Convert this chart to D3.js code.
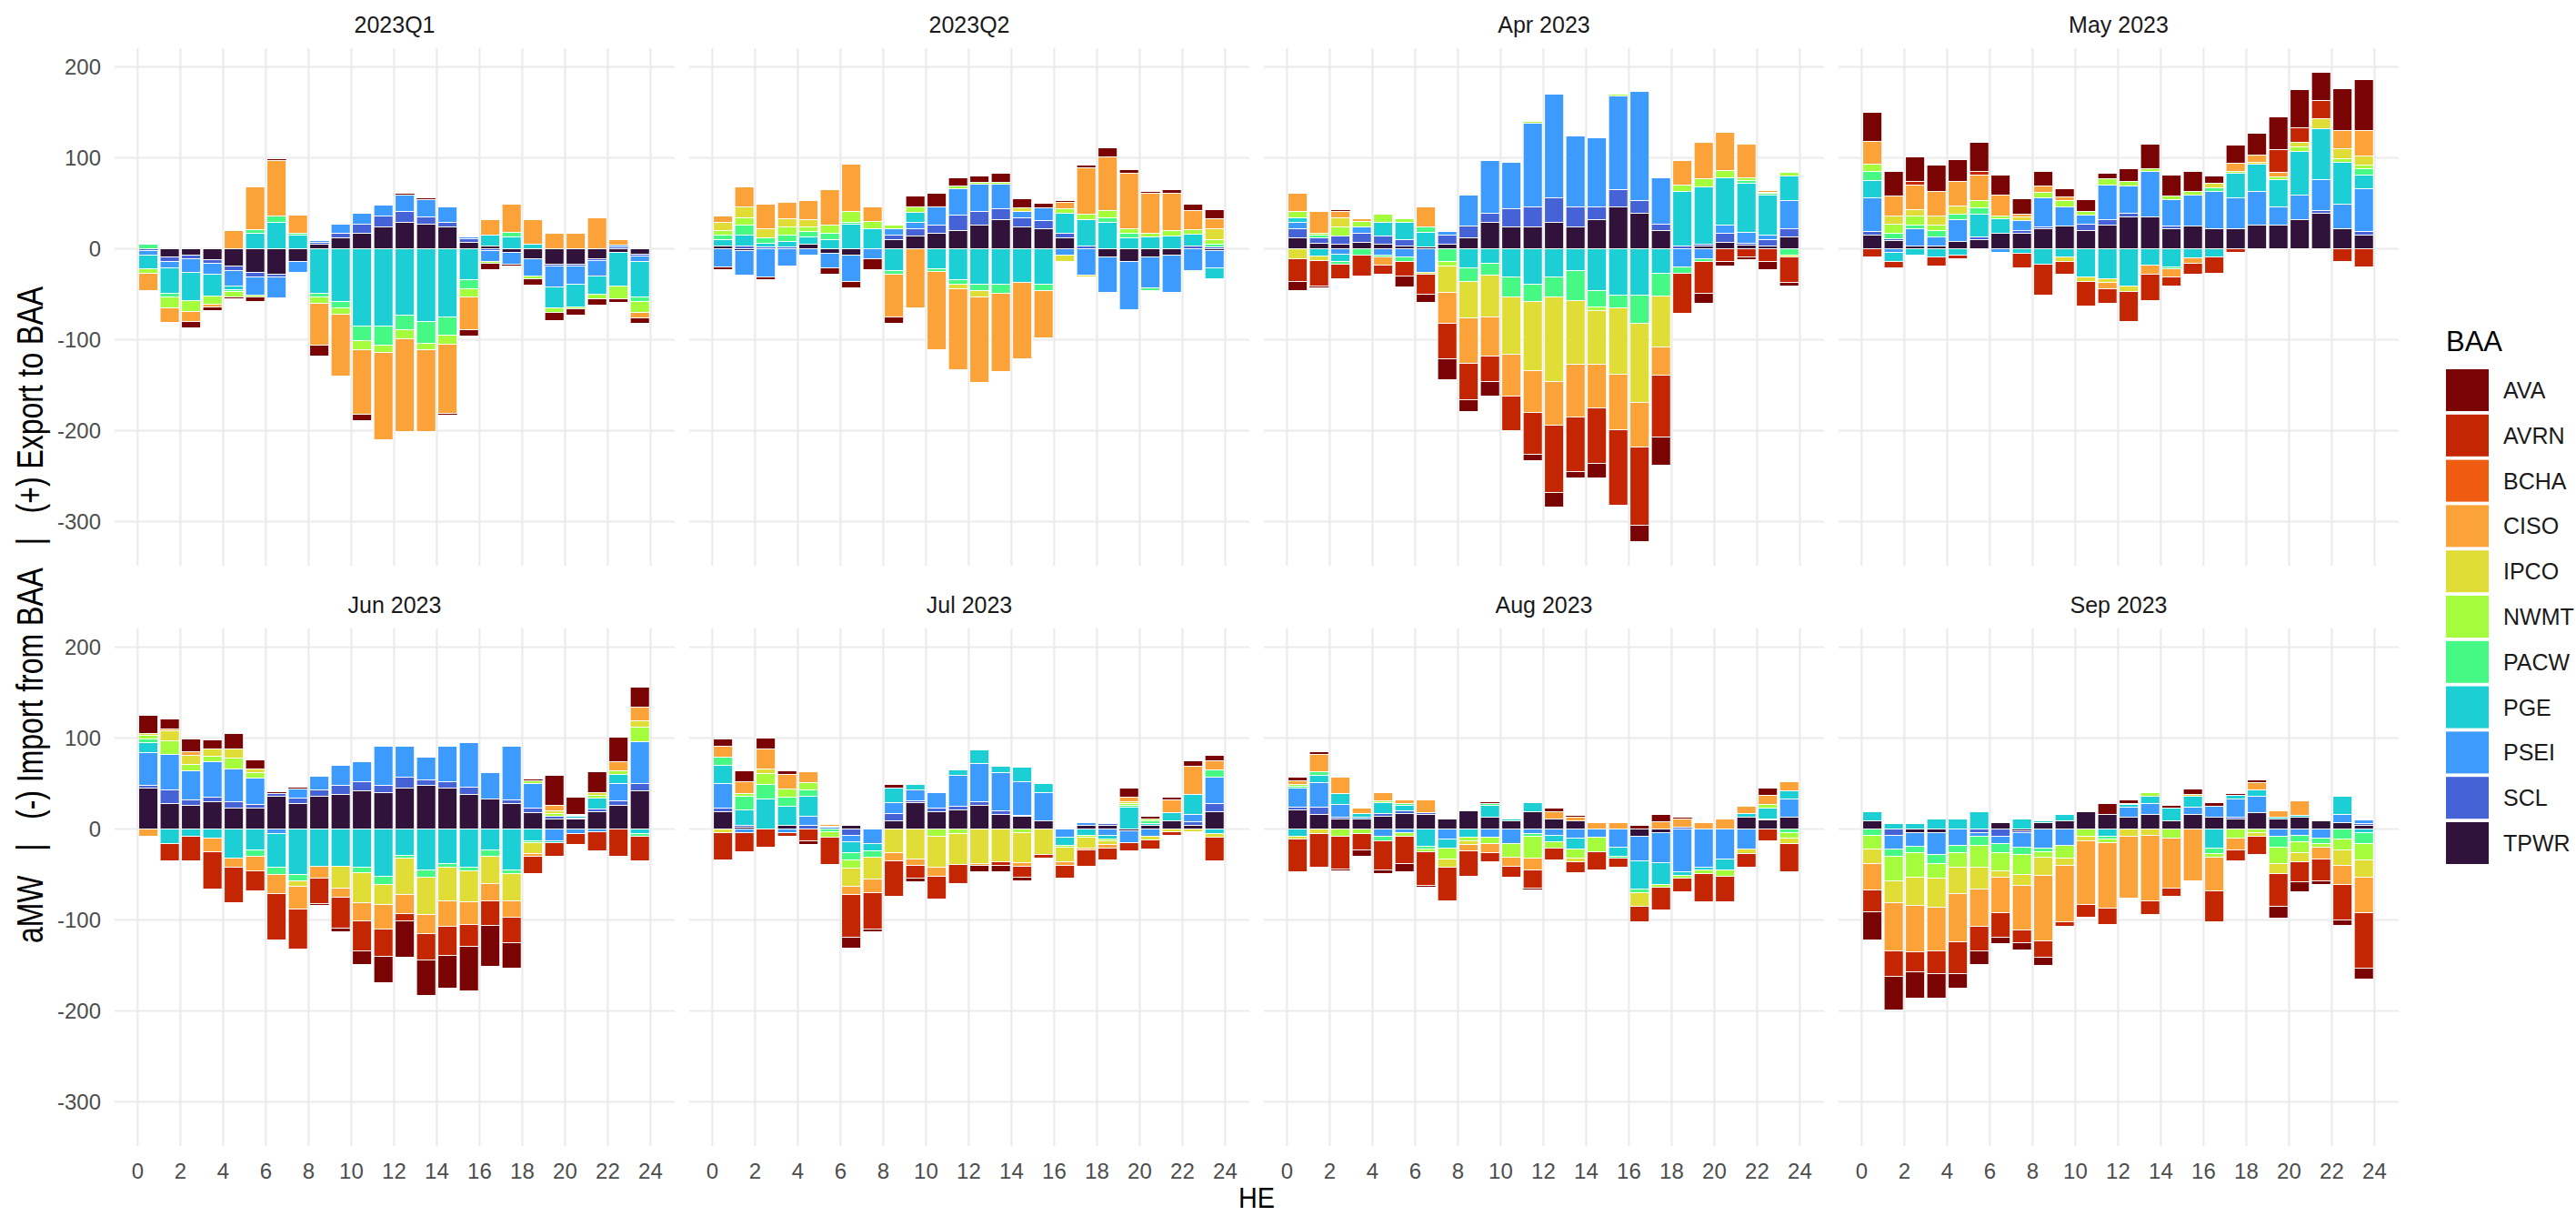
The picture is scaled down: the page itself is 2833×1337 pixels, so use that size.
<!DOCTYPE html>
<html>
<head>
<meta charset="utf-8">
<script src="https://cdn.jsdelivr.net/npm/d3@7"></script>
<style>
  html, body { margin: 0; padding: 0; background: #ffffff; }
  svg { display: block; font-family: "Liberation Sans", Arial, Helvetica, sans-serif; }
</style>
</head>
<body>
<svg id="chart" width="2833" height="1337"></svg>
<script>
// Balancing-authority areas (legend order) and their fill colours
const baa = ["AVA", "AVRN", "BCHA", "CISO", "IPCO", "NWMT", "PACW", "PGE", "PSEI", "SCL", "TPWR"];
const baaColors = ["#7a0403", "#c42503", "#f05b12", "#fba238", "#e1dd37", "#a4fc3c", "#46f884", "#1bcfd4", "#3e9bfe", "#4662d7", "#30123b"];

// Hour ending, 1..24
const hourEnding = d3.range(1, 25);

// Panel titles
const panels = ["2023Q1", "2023Q2", "Apr 2023", "May 2023", "Jun 2023", "Jul 2023", "Aug 2023", "Sep 2023"];

// Axis ticks
const yTicks = [-300, -200, -100, 0, 100, 200];
const xTicks = [0, 2, 4, 6, 8, 10, 12, 14, 16, 18, 20, 22, 24];

// Average MW per hour; each row is one hour ending, columns follow `baa`
const q1_2023 = [
  [0,0,0,-19,0,-5,5,-15,-5,-2,0],
  [0,0,0,-16,0,-12,-4,-28,-7,-5,-9],
  [-7,0,0,-11,0,-12,0,-31,-15,-4,-7],
  [-4,0,0,-3,0,-9,0,-24,-12,-4,-12],
  [-2,0,0,20,0,-6,-2,-4,-17,-5,-19],
  [-5,0,0,47,0,-2,4,17,-20,-5,-26],
  [2,0,0,61,0,0,7,29,-23,-3,-28],
  [0,0,0,20,0,0,2,15,-12,0,-14],
  [-12,0,0,-46,1,-7,-4,-49,2,2,5],
  [0,0,0,-68,0,-7,-7,-58,10,5,12],
  [-7,0,0,-71,0,-10,-16,-85,12,10,17],
  [0,-1,0,-96,0,-8,-21,-85,12,12,24],
  [2,0,0,-102,0,-10,-16,-73,18,12,29],
  [2,0,0,-90,0,-7,-24,-80,19,8,27],
  [-2,0,0,-76,0,-10,-20,-75,17,5,24],
  [-7,0,0,-36,0,-9,-10,-34,2,4,7],
  [-7,0,0,17,0,-2,0,12,-12,-2,3],
  [-2,0,0,31,0,0,5,13,-13,0,-4],
  [-7,0,0,27,0,-3,0,5,-19,0,-11],
  [-9,0,0,17,0,-5,0,-23,-23,-2,-17],
  [-7,0,0,17,0,-2,0,-25,-20,-2,-17],
  [-7,0,0,34,0,-5,0,-20,-17,-2,-11],
  [-4,0,0,6,0,-14,0,-37,2,2,-4],
  [-6,0,0,-6,0,-12,-5,-39,-6,-2,-6]
];

const q2_2023 = [
  [-3,0,0,7,9,5,5,7,-20,0,3],
  [0,0,0,22,12,8,11,12,-27,3,-2],
  [-3,0,0,27,10,0,6,4,-31,2,0],
  [0,0,0,18,9,9,7,6,-19,2,0],
  [0,0,0,21,8,5,6,8,-7,0,5],
  [-7,0,0,39,0,9,7,10,-16,0,-5],
  [-7,0,0,52,0,12,2,27,-29,0,-7],
  [-12,0,0,16,0,8,0,22,-11,0,0],
  [-7,0,0,-47,0,4,-4,-24,7,5,10],
  [12,0,0,-65,0,6,0,11,7,8,14],
  [15,0,0,-86,0,0,-3,-22,20,9,17],
  [9,0,0,-89,-5,3,-5,-34,29,17,20],
  [7,0,0,-94,-7,2,-7,-39,30,15,26],
  [10,0,0,-86,0,2,-10,-39,27,12,32],
  [10,0,0,-84,4,0,0,-37,7,10,24],
  [5,0,0,-52,0,0,-7,-39,14,9,22],
  [2,0,0,7,-7,5,0,22,-7,5,12],
  [3,0,0,51,-2,6,0,29,-29,3,0],
  [10,0,0,59,0,8,5,29,-39,0,-9],
  [4,0,0,61,0,5,5,12,-53,0,-14],
  [2,0,0,44,0,4,-3,13,-34,0,-9],
  [4,0,0,41,0,6,0,14,-41,0,-7],
  [7,0,0,21,0,5,0,13,-24,3,0],
  [10,0,0,11,12,5,3,-12,-19,2,-2]
];

const apr2023 = [
  [-10,-25,0,20,-11,7,0,5,7,10,12],
  [-2,-28,0,24,-5,2,3,-8,0,6,6],
  [2,-16,0,7,10,10,-3,-8,-6,9,5],
  [0,-23,0,3,0,6,-7,0,7,10,7],
  [0,-10,0,-9,0,9,-2,15,-7,9,5],
  [-12,-16,0,0,0,4,-5,19,-9,7,3],
  [-9,-22,0,22,-2,0,6,16,-26,0,2],
  [-23,-39,0,-34,-29,-5,-14,0,4,10,5],
  [-13,-40,0,-50,-40,0,-15,-21,34,13,12],
  [-16,-28,0,-43,-46,0,-13,-16,58,10,29],
  [-1,-38,0,-46,-63,0,-22,-31,51,20,24],
  [-7,-46,0,-46,-76,2,-19,-39,92,22,24],
  [-16,-74,0,-48,-93,0,-22,-31,114,27,29],
  [-7,-60,0,-58,-70,0,-33,-24,78,22,24],
  [-16,-61,0,-48,-59,-4,-18,-46,76,14,32],
  [-1,-83,0,-61,-73,2,-14,-51,103,19,46],
  [-18,-86,0,-49,-87,0,-31,-51,120,14,39],
  [-31,-68,0,-31,-56,0,-25,-27,51,7,20],
  [0,-44,0,27,0,7,-7,60,-20,3,0],
  [-11,-35,0,40,0,9,-3,63,-11,2,3],
  [-5,-14,0,42,0,8,0,52,9,10,7],
  [-3,-9,0,37,0,3,3,54,12,2,4],
  [-9,-14,0,2,0,1,2,44,5,7,3],
  [-4,-28,0,0,-2,4,-7,27,31,9,13]
];

const may2023 = [
  [32,-9,0,25,0,8,10,19,37,4,15],
  [27,-7,0,22,9,10,6,-10,-4,2,9],
  [27,4,0,27,7,10,4,-7,19,0,3],
  [29,-10,0,27,10,6,7,-9,10,0,3],
  [24,-4,0,27,9,0,6,-7,24,0,8],
  [32,4,0,28,0,8,7,25,0,3,10],
  [22,0,0,23,0,3,0,16,-4,0,17],
  [17,-16,0,3,4,0,0,-5,11,3,17],
  [16,-34,0,7,0,6,0,-17,32,2,22],
  [9,-14,0,4,-5,7,0,-9,21,0,25],
  [13,-27,0,0,-5,4,0,-31,10,7,20],
  [6,-16,0,-7,-4,7,0,-33,38,6,26],
  [14,-33,0,0,-6,5,0,-41,30,4,35],
  [27,-29,0,-10,0,3,0,-18,50,0,35],
  [23,-10,0,-9,0,4,-2,-20,29,3,22],
  [22,-12,0,-6,0,4,0,-10,34,0,25],
  [8,-18,0,0,5,0,4,-9,41,0,22],
  [20,-4,0,9,0,2,0,27,34,0,22],
  [24,0,0,8,2,0,0,30,37,0,26],
  [36,25,0,5,0,3,0,30,20,0,26],
  [42,16,0,0,5,5,0,48,27,0,32],
  [31,20,0,0,11,0,0,56,34,3,39],
  [46,-14,0,20,11,4,0,46,27,0,22],
  [56,-20,0,28,10,4,7,15,47,4,15]
];

const jun2023 = [
  [20,0,0,-8,2,4,4,11,36,3,45],
  [11,-19,0,2,11,15,0,-16,39,15,28],
  [14,-27,0,4,10,7,0,-8,32,6,26],
  [10,-41,0,-15,8,6,0,-10,39,5,30],
  [17,-39,0,-10,10,12,0,-32,36,7,23],
  [10,-22,0,-16,4,6,-7,-23,29,4,23],
  [2,-51,0,-21,0,0,-8,-37,-5,3,36],
  [2,-44,0,-25,-6,0,-7,-50,10,6,28],
  [-2,-28,0,-13,0,0,0,-41,15,7,36],
  [-4,-34,0,-10,-24,0,0,-41,22,10,38],
  [-15,-33,0,-20,-33,0,-6,-42,22,10,42],
  [-29,-30,0,-27,-22,0,-9,-52,43,8,40],
  [-40,-8,0,-21,-40,0,-3,-29,34,12,45],
  [-39,-29,0,-21,-41,0,-8,-45,25,6,48],
  [-36,-32,0,-28,-37,0,-4,-38,39,7,45],
  [-49,-24,0,-25,-34,0,-4,-42,49,8,38],
  [-45,-27,0,-19,-30,0,-7,-23,29,0,33],
  [-28,-28,0,-18,-30,0,-4,-45,59,4,28],
  [2,-19,0,-3,-12,3,-2,-13,27,5,18],
  [33,-15,0,6,3,3,0,-2,-13,3,11],
  [19,-12,0,0,1,1,0,2,-5,1,11],
  [23,-21,0,0,3,3,0,12,-3,3,19],
  [27,-30,0,10,0,4,0,10,19,5,26],
  [22,-27,0,15,7,16,-3,-5,46,8,42]
];

const jul2023 = [
  [8,-30,0,12,-4,0,9,20,27,4,19],
  [12,-21,0,13,0,3,15,17,-4,2,2],
  [12,-20,0,22,5,12,16,33,0,0,0],
  [4,-4,0,16,0,9,10,21,-4,0,4],
  [-4,-13,0,12,0,8,7,22,10,4,0],
  [0,-30,0,2,0,-6,-3,1,2,0,0],
  [-12,-47,0,-9,-20,-9,-8,-12,-7,-7,4],
  [-3,-40,0,-15,-24,0,-7,-8,-16,0,0],
  [4,-39,0,-9,-26,0,0,16,12,8,9],
  [-4,-14,0,-7,-33,0,1,6,12,2,29],
  [-1,-25,0,-10,-34,-8,0,0,17,4,19],
  [-1,-21,0,0,-34,-5,1,6,34,4,21],
  [-7,0,0,-2,-38,0,0,15,42,4,26],
  [-7,-4,0,0,-36,0,0,7,42,4,16],
  [-4,-12,0,-4,-33,-4,0,16,37,1,14],
  [0,-4,0,1,-28,0,1,10,31,0,9],
  [0,-14,0,-4,-16,-2,0,-9,-9,0,0],
  [-1,-18,0,-2,-12,-2,0,-7,3,0,4],
  [0,-13,0,-4,-4,-2,0,-4,-7,2,4],
  [10,-9,0,5,2,2,2,24,-13,0,-2],
  [3,-10,0,0,-4,2,3,2,-8,0,4],
  [3,-4,0,14,-3,0,0,9,0,0,9],
  [6,0,0,31,-3,0,0,22,8,4,4],
  [6,-26,0,10,-4,0,8,-5,29,9,19]
];

const aug2023 = [
  [4,-36,0,4,-3,2,2,-8,21,3,21],
  [3,-37,0,19,-5,0,4,8,27,8,16],
  [-2,-36,0,18,0,-8,0,12,14,2,11],
  [-7,-18,0,6,0,-5,0,4,2,0,11],
  [-4,-32,0,9,0,2,-5,12,-8,3,14],
  [-9,-30,0,4,0,-4,2,6,-4,3,17],
  [-2,-37,0,14,0,-3,-3,-19,0,2,16],
  [0,-37,0,0,-9,-12,0,-10,-11,0,11],
  [1,-28,0,-7,-4,-4,0,-9,0,0,20],
  [2,-10,0,-10,0,-7,2,13,-9,0,13],
  [0,-12,0,-10,0,-15,0,2,-16,0,9],
  [-2,-20,0,-13,0,-24,-3,10,-5,0,19],
  [4,-13,0,8,0,-7,0,-7,-7,0,11],
  [2,-12,0,4,-4,-10,0,-12,-10,0,9],
  [0,-20,0,7,0,-16,0,0,-9,0,0],
  [0,-10,0,7,0,0,-2,-10,-20,0,0],
  [4,-17,0,0,-15,0,-4,-31,-27,0,-8],
  [8,-25,0,8,0,-3,0,-24,-33,0,-4],
  [2,-15,0,9,0,-3,0,-4,-47,2,0],
  [-1,-31,0,7,0,-4,0,-3,-42,0,0],
  [0,-28,0,11,0,-7,0,-12,-33,0,0],
  [0,-15,0,8,-5,0,0,4,-22,0,13],
  [8,-13,0,10,0,4,0,12,0,1,10],
  [0,-31,0,10,-6,-6,-4,9,20,0,13]
];

const sep2023 = [
  [-31,-24,0,-29,-16,-15,-7,10,0,0,9],
  [-37,-28,0,-53,-24,-27,-8,6,-15,-7,0],
  [-29,-22,0,-51,-31,-27,-7,6,-15,0,-4],
  [-27,-25,0,-48,-32,-16,-10,11,-24,0,-4],
  [-16,-35,0,-53,-29,-16,-8,11,-18,0,0],
  [-15,-27,0,-41,-24,-24,-10,19,-4,-4,0],
  [-7,-27,0,-39,-7,-20,-10,0,-8,-8,7],
  [-8,-14,0,-49,-12,-22,-8,11,-16,-2,-2],
  [-9,-18,0,-72,-20,-6,-4,2,-21,0,7],
  [0,-5,0,-62,-8,-14,0,7,-18,0,9],
  [0,-14,0,-70,-5,-8,0,0,0,0,19],
  [12,-18,0,-72,0,-4,-3,-8,0,0,16],
  [4,0,0,-68,-8,0,1,3,11,0,13],
  [-1,-15,0,-72,-7,4,0,8,12,0,16],
  [3,-9,0,-55,0,-10,0,14,0,0,9],
  [6,0,0,-57,2,0,0,12,8,0,16],
  [4,-34,0,-37,0,-4,-6,-21,12,0,13],
  [2,-12,0,-13,0,-10,0,4,20,2,11],
  [3,-20,0,8,-4,-4,0,7,18,0,18],
  [-13,-36,0,7,-11,-18,-12,2,-8,0,11],
  [-11,-22,0,16,-10,-12,-7,2,-7,0,13],
  [-4,-24,0,-13,0,-4,-6,0,-10,0,9],
  [-6,-39,0,-21,-17,-12,-11,20,9,0,7],
  [-12,-61,0,-39,-19,-18,-12,-4,4,2,4]
];

const panelData = [q1_2023, q2_2023, apr2023, may2023, jun2023, jul2023, aug2023, sep2023];

// ---- layout ----
const svg = d3.select("#chart");
const panelLeft = [126, 758, 1390, 2022];
const panelW = 616;
const rowTop = [53, 691];
const panelH = 569;

const color = d3.scaleOrdinal().domain(baa).range(baaColors);

// TPWR sits nearest zero, AVA furthest out, on both sides of the axis
const stackKeys = baa.slice().reverse();
const stacker = d3.stack().keys(stackKeys).offset(d3.stackOffsetDiverging);

const gridColor = "#ebebeb";

panels.forEach((title, p) => {
  const col = p % 4, row = Math.floor(p / 4);
  const x0 = panelLeft[col], y0 = rowTop[row];

  const x = d3.scaleLinear().domain([-1.08, 25.13]).range([x0, x0 + panelW]);
  const y = d3.scaleLinear().domain([-348.5, 220.5]).range([y0 + panelH, y0]);

  const g = svg.append("g");

  // grid
  g.selectAll("line.hgrid").data(yTicks).join("line")
    .attr("x1", x0).attr("x2", x0 + panelW)
    .attr("y1", d => y(d)).attr("y2", d => y(d))
    .attr("stroke", gridColor).attr("stroke-width", 2.2);
  g.selectAll("line.vgrid").data(xTicks).join("line")
    .attr("x1", d => x(d)).attr("x2", d => x(d))
    .attr("y1", y0).attr("y2", y0 + panelH)
    .attr("stroke", gridColor).attr("stroke-width", 2.2);

  // strip title
  svg.append("text")
    .attr("x", x0 + panelW / 2).attr("y", y0 - 26)
    .attr("text-anchor", "middle").attr("dominant-baseline", "central")
    .attr("font-size", 25).attr("fill", "#1a1a1a")
    .text(title);

  // stacked bars
  const rows = panelData[p].map((vals, i) => {
    const o = { he: hourEnding[i] };
    baa.forEach((k, j) => { o[k] = vals[j]; });
    return o;
  });
  const series = stacker(rows);
  const bw = x(0.9) - x(0);

  series.forEach(s => {
    g.append("g").attr("fill", color(s.key))
      .selectAll("rect")
      .data(s.filter(d => d[1] !== d[0]))
      .join("rect")
      .attr("x", d => x(d.data.he - 0.5) - bw / 2)
      .attr("width", bw)
      .attr("y", d => y(Math.max(d[0], d[1])))
      .attr("height", d => Math.abs(y(d[0]) - y(d[1])))
      .attr("stroke", "#ffffff")
      .attr("stroke-width", 1);
  });

  // y tick labels on the first column
  if (col === 0) {
    svg.append("g").selectAll("text").data(yTicks).join("text")
      .attr("x", 111).attr("y", d => y(d))
      .attr("text-anchor", "end").attr("dominant-baseline", "central")
      .attr("font-size", 24).attr("fill", "#4d4d4d")
      .text(d => d < 0 ? "-" + Math.abs(d) : d);
  }
  // x tick labels on the bottom row
  if (row === 1) {
    svg.append("g").selectAll("text").data(xTicks).join("text")
      .attr("x", d => x(d)).attr("y", y0 + panelH + 27)
      .attr("text-anchor", "middle").attr("dominant-baseline", "central")
      .attr("font-size", 24).attr("fill", "#4d4d4d")
      .text(d => d);
  }
});

// axis titles
svg.append("text")
  .attr("x", (panelLeft[0] + panelLeft[3] + panelW) / 2).attr("y", 1317)
  .attr("text-anchor", "middle").attr("dominant-baseline", "central")
  .attr("font-size", 31).attr("fill", "#000")
  .attr("textLength", 40).attr("lengthAdjust", "spacingAndGlyphs")
  .text("HE");

svg.append("text")
  .attr("transform", "translate(33,676) rotate(-90)")
  .attr("text-anchor", "middle").attr("dominant-baseline", "central")
  .attr("font-size", 40).attr("fill", "#000")
  .attr("textLength", 722).attr("lengthAdjust", "spacingAndGlyphs")
  .attr("xml:space", "preserve")
  .style("white-space", "pre")
  .text("aMW   |   (-) Import from BAA   |   (+) Export to BAA");

// legend
const legend = svg.append("g");
legend.append("text")
  .attr("x", 2690).attr("y", 375)
  .attr("dominant-baseline", "central")
  .attr("font-size", 31).attr("fill", "#000")
  .text("BAA");
const keyPitch = 49.8;
legend.selectAll("rect").data(baa).join("rect")
  .attr("x", 2690).attr("y", (d, i) => 406 + i * keyPitch)
  .attr("width", 47).attr("height", 46)
  .attr("fill", d => color(d));
legend.selectAll("text.lbl").data(baa).join("text")
  .attr("class", "lbl")
  .attr("x", 2753).attr("y", (d, i) => 406 + i * keyPitch + 23)
  .attr("dominant-baseline", "central")
  .attr("font-size", 25).attr("fill", "#1a1a1a")
  .text(d => d);
</script>
</body>
</html>
